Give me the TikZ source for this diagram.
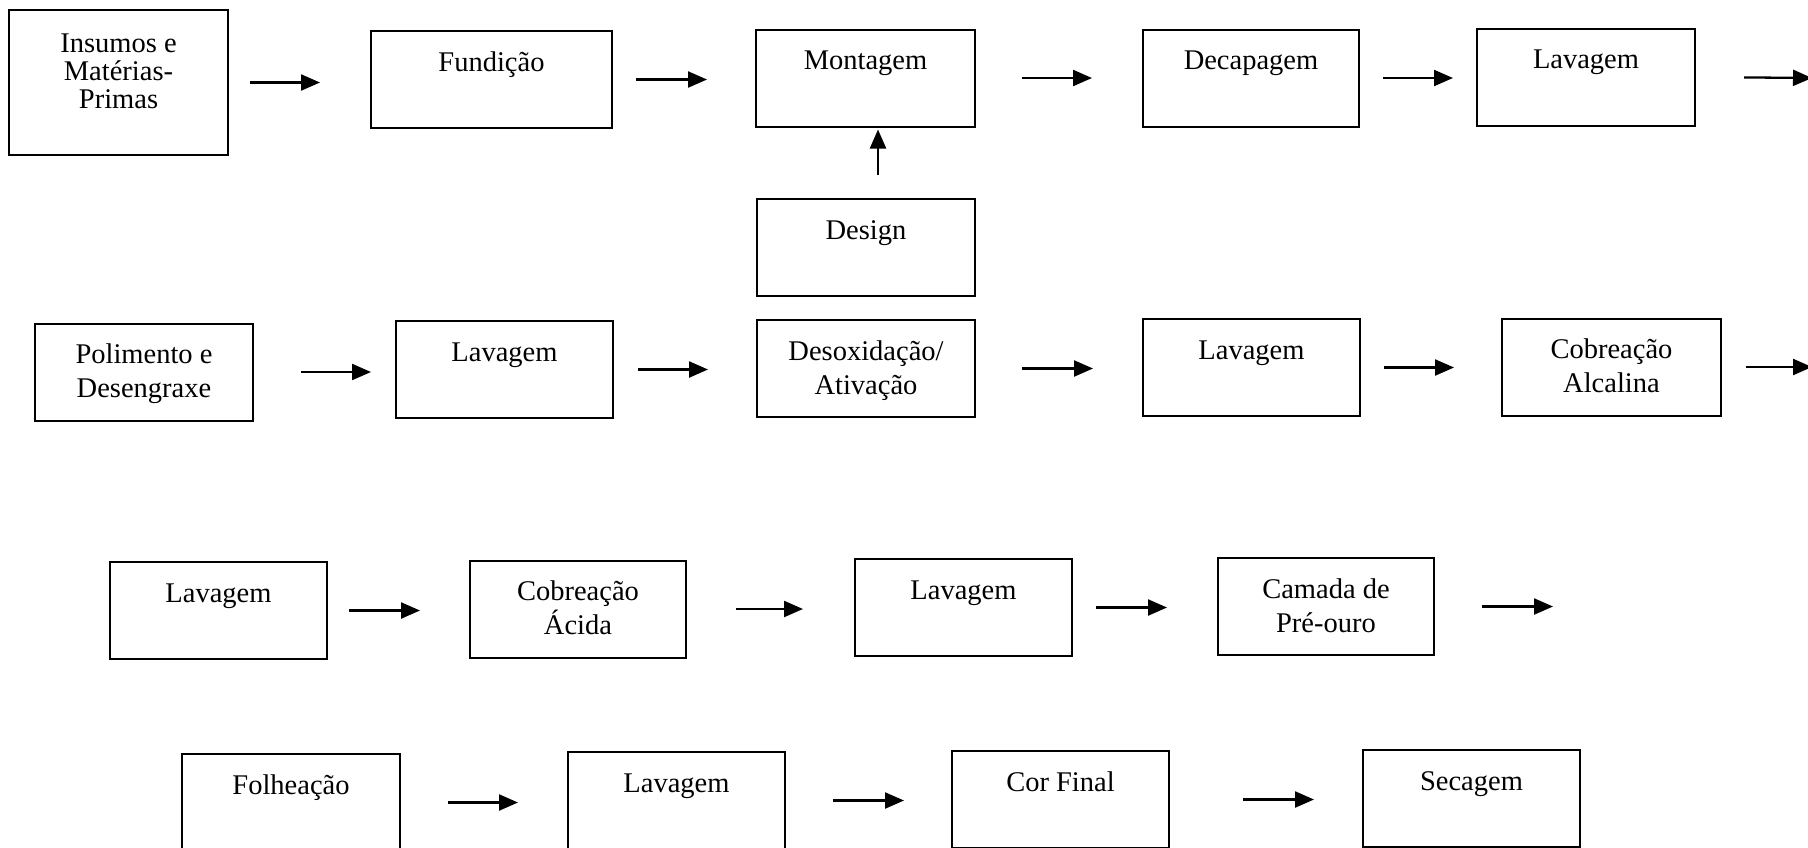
\documentclass[tikz,border=0pt]{standalone}
\usepackage{fontspec}
\setmainfont{Liberation Serif}
\usetikzlibrary{arrows.meta}
\tikzset{
  stepbox/.style={draw, line width=2pt, inner sep=0pt, align=flush center,
    text width=#1, text height=40pt, text depth=57pt,
    font=\fontsize{28.5}{34}\selectfont},
  stepbox/.default=218pt,
  flowarrow/.style={line width=2.3pt, -{Triangle[length=19pt,width=16pt]}},
}
\newcommand\flowlink[4]{\draw[flowarrow, shorten <=#3pt, shorten >=#4pt] (#1.east) -- (#1.east -| #2.west);}
\begin{document}
\begin{tikzpicture}[x=1pt, y=-1pt]
\useasboundingbox (0,0) rectangle (1808,847);
\clip (0,0) rectangle (1808,847);
% Row 1
\node[stepbox=219pt, text height=42pt, text depth=103pt, font=\fontsize{28.5}{28}\selectfont] (ins) at (118.5,82.5) {Insumos e\\Matérias-\\Primas};
\node[stepbox=241pt] (fund) at (491.5,79.5) {Fundição};
\node[stepbox=219pt] (mont) at (865.5,78) {Montagem};
\node[stepbox=216pt] (decap) at (1251,78) {Decapagem};
\node[stepbox=218pt] (lav1) at (1586,77) {Lavagem};
\node[stepbox=218pt] (design) at (866,247.5) {Design};
\coordinate (e1) at (1812,78);
% Row 2
\node[stepbox=218pt] (pol) at (144,372) {Polimento e\\Desengraxe};
\node[stepbox=217pt] (lav2) at (504.5,369.5) {Lavagem};
\node[stepbox=218pt] (desox) at (866,368.5) {Desoxidação/\\Ativação};
\node[stepbox=217pt] (lav3) at (1251.5,367.5) {Lavagem};
\node[stepbox=219pt] (cobalc) at (1611.5,367) {Cobreação\\Alcalina};
\coordinate (e2) at (1812,367);
% Row 3
\node[stepbox=217pt] (lav4) at (218.5,610.5) {Lavagem};
\node[stepbox=216pt] (cobac) at (578,609) {Cobreação\\Ácida};
\node[stepbox=217pt] (lav5) at (963.5,607.5) {Lavagem};
\node[stepbox=216pt] (camada) at (1326,606.5) {Camada de\\Pré-ouro};
\coordinate (e3) at (1553,606.5);
% Row 4
\node[stepbox=218pt] (folh) at (291,802.5) {Folheação};
\node[stepbox=217pt] (lav6) at (676.5,800.5) {Lavagem};
\node[stepbox=217pt] (cor) at (1060.5,799.5) {Cor Final};
\node[stepbox=217pt] (sec) at (1471.5,798.5) {Secagem};
% Arrows row 1
\flowlink{ins}{fund}{21}{50}
\flowlink{fund}{mont}{23}{48}
\flowlink{mont}{decap}{46}{50}
\flowlink{decap}{lav1}{23}{23}
\draw[flowarrow, shorten <=48pt] (lav1.east) -- (e1);
\draw[flowarrow, shorten <=23pt, shorten >=2pt] ([xshift=12pt]design.north) -- ([xshift=12pt]design.north |- mont.south);
% Arrows row 2
\flowlink{pol}{lav2}{47}{24}
\flowlink{lav2}{desox}{24}{48}
\flowlink{desox}{lav3}{46}{49}
\flowlink{lav3}{cobalc}{23}{47}
\draw[flowarrow, shorten <=24pt] (cobalc.east) -- (e2);
% Arrows row 3
\flowlink{lav4}{cobac}{21}{49}
\flowlink{cobac}{lav5}{49}{51}
\flowlink{lav5}{camada}{23}{50}
\draw[flowarrow, shorten <=47pt] (camada.east) -- (e3);
% Arrows row 4
\flowlink{folh}{lav6}{47}{49}
\flowlink{lav6}{cor}{47}{47}
\flowlink{cor}{sec}{73}{48}
\end{tikzpicture}
\end{document}
